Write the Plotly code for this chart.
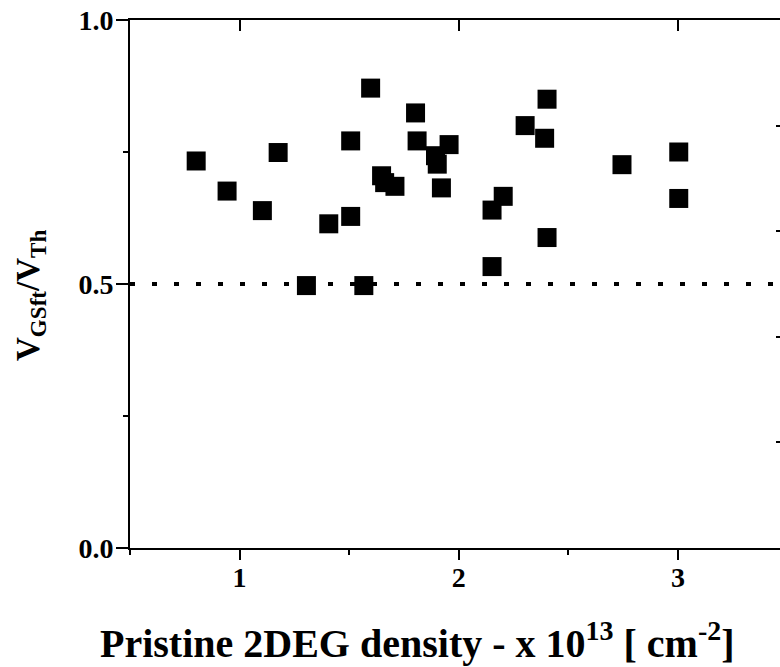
import plotly.graph_objects as go

# Data
density = [0.802, 0.943, 1.104, 1.176, 1.305, 1.407, 1.507, 1.507, 1.567, 1.598,
           1.648, 1.662, 1.709, 1.803, 1.810, 1.894, 1.902, 1.921, 1.956, 2.152,
           2.152, 2.203, 2.303, 2.392, 2.403, 2.403, 2.745, 3.004, 3.004]
ratio = [0.733, 0.676, 0.639, 0.749, 0.497, 0.614, 0.628, 0.771, 0.497, 0.871,
         0.705, 0.692, 0.685, 0.824, 0.771, 0.743, 0.727, 0.682, 0.764, 0.533,
         0.640, 0.666, 0.800, 0.776, 0.850, 0.588, 0.726, 0.750, 0.662]
ref_level = 0.5
x_range = [0.5, 3.466]
y_range = [0.0, 1.0]
y_ticks = [0.0, 0.5, 1.0]
x_ticks = [1, 2, 3]
right_ticks = [0.2, 0.4, 0.6, 0.8]

FONT = "Liberation Serif"

fig = go.Figure()
fig.add_trace(go.Scatter(
    x=density, y=ratio, mode="markers",
    marker=dict(symbol="square", size=19, color="black", line=dict(width=0)),
    showlegend=False, hoverinfo="x+y"))
# invisible companion trace so the mirrored top/right axes are drawn
fig.add_trace(go.Scatter(
    x=density, y=ratio, mode="markers", xaxis="x2", yaxis="y2",
    marker=dict(opacity=0), showlegend=False, hoverinfo="skip"))

# dotted reference line at 0.5
fig.add_shape(type="line", xref="paper", x0=0, x1=1, yref="y", y0=ref_level, y1=ref_level,
              line=dict(color="black", width=4, dash="5px,17px"), layer="below")

tickfont = dict(family=FONT, size=28, color="black", weight="bold")

fig.update_layout(
    width=780, height=667,
    margin=dict(l=130, r=0, t=20, b=119),
    paper_bgcolor="white", plot_bgcolor="white",
    xaxis=dict(range=x_range, tickmode="array", tickvals=x_ticks, ticktext=[str(v) for v in x_ticks],
               ticks="outside", ticklen=10, tickwidth=2, tickcolor="black",
               showline=True, linewidth=2, linecolor="black", showgrid=False, zeroline=False,
               tickfont=tickfont, ticklabelstandoff=-7,
               minor=dict(tickmode="linear", tick0=0.5, dtick=1, ticks="outside", ticklen=5,
                          tickwidth=2, tickcolor="black", showgrid=False)),
    yaxis=dict(range=y_range, tickmode="array", tickvals=y_ticks, ticktext=[f"{v:.1f}" for v in y_ticks],
               ticks="outside", ticklen=12, tickwidth=2, tickcolor="black",
               showline=True, linewidth=2, linecolor="black", showgrid=False, zeroline=False,
               tickfont=tickfont, ticklabelstandoff=-3,
               minor=dict(tickmode="linear", tick0=0.25, dtick=0.5, ticks="outside", ticklen=5,
                          tickwidth=2, tickcolor="black", showgrid=False)),
    xaxis2=dict(range=x_range, overlaying="x", side="top", anchor="y",
                tickmode="array", tickvals=x_ticks, ticks="inside", ticklen=11, tickwidth=2,
                tickcolor="black", showticklabels=False, showline=True, linewidth=2,
                linecolor="black", showgrid=False, zeroline=False),
    yaxis2=dict(range=y_range, overlaying="y", side="right", anchor="x",
                tickmode="array", tickvals=right_ticks, ticks="inside", ticklen=4, tickwidth=2,
                tickcolor="black", showticklabels=False, showline=False, showgrid=False,
                zeroline=False),
    annotations=[
        dict(text="Pristine 2DEG density - x 10<sup>13</sup> [ cm<sup>-2</sup>]",
             xref="paper", yref="paper", x=0.443, y=-0.175, xanchor="center", yanchor="middle",
             showarrow=False, font=dict(family=FONT, size=40, color="black", weight="bold")),
        dict(text="V<sub>GSft</sub>/V<sub>Th</sub>", textangle=-90,
             xref="paper", yref="paper", x=-0.154, y=0.479, xanchor="center", yanchor="middle",
             showarrow=False, font=dict(family=FONT, size=33, color="black", weight="bold")),
    ],
)

fig.write_html("out.html")
